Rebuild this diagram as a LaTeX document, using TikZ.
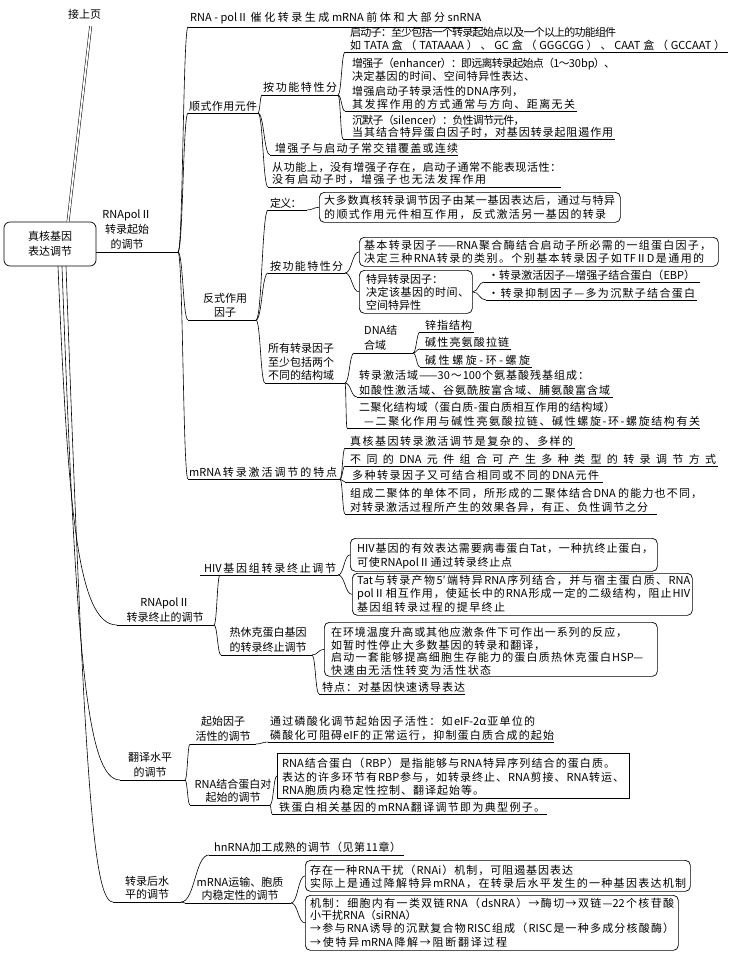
\documentclass[tikz,border=0pt]{standalone}
\usepackage{fontspec}
\setmainfont{Noto Sans CJK SC}
\usetikzlibrary{calc}
\chardef\cjkcls=200
\newcount\cjkcnt
\cjkcnt="3000
\loop\ifnum\cjkcnt<"3040 \XeTeXcharclass\cjkcnt=\cjkcls \advance\cjkcnt by 1 \repeat
\cjkcnt="4E00
\loop\ifnum\cjkcnt<"A000 \XeTeXcharclass\cjkcnt=\cjkcls \advance\cjkcnt by 1 \repeat
\cjkcnt="FF00
\loop\ifnum\cjkcnt<"FF60 \XeTeXcharclass\cjkcnt=\cjkcls \advance\cjkcnt by 1 \repeat
\XeTeXinterchartoks \cjkcls \cjkcls = {\hskip 0pt plus 1fil minus 0.8pt\relax}
\XeTeXinterchartoks 0 \cjkcls = {\hskip 0pt plus 1fil minus 0.8pt\relax}
\XeTeXinterchartoks \cjkcls 0 = {\hskip 0pt plus 1fil minus 0.8pt\relax}
\newcommand\fs{\fontsize{11}{14.5}\selectfont}
\newcommand\tline[5]{\node[tx] (#1) at (#2,#3+4) {\XeTeXinterchartokenstate=1\relax\hbox to #4pt{#5}};}
\newcommand\tnat[4]{\node[tx] (#1) at (#2,#3+4) {#4};}
\newcommand\undl[4]{\coordinate (#1L) at (#2,#4);\coordinate (#1R) at (#3,#4);\draw[ln] (#1L) -- (#1R);}
\newcommand\conn[2]{\coordinate (cM) at ($(#1)!0.5!(#2)$);\draw[ln] (#1) .. controls (cM |- #1) and (cM |- #2) .. (#2);}
\begin{document}
\begin{tikzpicture}[x=1pt,y=-1pt,
 tx/.style={anchor=base west, inner sep=0pt, font=\fs},
 lab/.style={align=center, anchor=south, inner sep=0pt},
 labl/.style={align=left, anchor=south west, inner sep=0pt},
 ln/.style={line width=0.6pt},
 bx/.style={draw, line width=0.7pt, rounded corners=5pt, anchor=north west, inner sep=0pt},
 dbl/.style={double, double distance=1.8pt, line width=0.5pt}]
\fill[white] (0,0) rectangle (731,966);
\useasboundingbox (0,0) rectangle (731,966);

% root
\node[draw, line width=0.7pt, rounded corners=6pt, minimum width=92, minimum height=44, inner sep=0pt, align=center, font=\fs] (root) at (50,244) {真核基因\\表达调节};
\tnat{prev}{68}{15}{接上页}
\draw[dbl] ($(prev.south)+(6,6)$) -- ($(root.north)+(18,0)$);
\coordinate (rb1) at ($(root.south)+(8,0)$);
\coordinate (rb2) at ($(root.south)+(12,0)$);
\coordinate (rb3) at ($(root.south)+(16,0)$);

% ===== branch 1
\node[lab, font=\fontsize{11}{15}\selectfont] (l1) at (127,250) {RNApolⅡ\\转录起始\\的调节};
\undl{rp}{96}{178}{252}

\tline{a1}{190}{18}{291}{RNA - polⅡ催化转录生成mRNA前体和大部分snRNA}
\undl{a1u}{188}{483}{27}
\conn{rpR}{a1uL}

\tline{sx}{189}{106}{68}{顺式作用元件}
\undl{sxu}{188}{258}{113}
\conn{rpR}{sxuL}

\tline{gn1}{263}{88}{74}{按功能特性分}
\undl{gn1u}{262}{338}{95}
\conn{sxuR}{gn1uL}

\tline{b1}{350}{33}{265}{启动子：至少包括一个转录起始点以及一个以上的功能组件}
\tline{b2}{350}{45}{375}{如TATA盒（TATAAAA）、GC盒（GGGCGG）、CAAT盒（GCCAAT）}
\undl{bu}{345}{728}{52}
\conn{gn1uR}{buL}

\tline{c1}{352}{63}{263}{增强子（enhancer）：即远离转录起始点（1～30bp）、}
\tline{c2}{352}{77}{183}{决定基因的时间、空间特异性表达、}
\tline{c3}{352}{91}{171}{增强启动子转录活性的DNA序列，}
\tline{c4}{352}{104}{223}{其发挥作用的方式通常与方向、距离无关}
\undl{cu}{345}{577}{111}
\conn{gn1uR}{cuL}

\tline{d1}{352}{120}{169}{沉默子（silencer）：负性调节元件，}
\tline{d2}{352}{132}{261}{当其结合特异蛋白因子时，对基因转录起阻遏作用}
\undl{du}{343}{615}{139}
\conn{gn1uR}{duL}

\tline{e1}{275}{148}{183}{增强子与启动子常交错覆盖或连续}
\undl{eu}{270}{458}{155}
\conn{sxuR}{euL}

\tline{f1}{272}{167}{289}{从功能上，没有增强子存在，启动子通常不能表现活性：}
\tline{f2}{272}{179}{214}{没有启动子时，增强子也无法发挥作用}
\undl{fu}{268}{561}{187}
\conn{sxuR}{fuL}

\node[lab, font=\fontsize{11}{14}\selectfont] (fsl) at (225,318) {反式作用\\因子};
\undl{fsu}{188}{256}{320}
\conn{rpR}{fsuL}

\tline{def}{270}{203}{30}{定义：}
\undl{defu}{268}{307}{210}
\conn{fsuR}{defuL}
\node[bx, minimum width=301, minimum height=30] (B1) at (319,192) {};
\tline{g1}{324}{200}{291}{大多数真核转录调节因子由某一基因表达后，通过与特异}
\tline{g2}{324}{214}{282}{的顺式作用元件相互作用，反式激活另一基因的转录}
\conn{defuR}{B1.west}

\tline{gn2}{270}{266}{73}{按功能特性分}
\undl{gn2u}{268}{345}{273}
\conn{fsuR}{gn2uL}
\node[bx, minimum width=359, minimum height=29] (B2) at (359,237) {};
\tline{h1}{364}{245}{347}{基本转录因子——RNA聚合酶结合启动子所必需的一组蛋白因子，}
\tline{h2}{364}{258}{340}{决定三种RNA转录的类别。个别基本转录因子如TFⅡD是通用的}
\conn{gn2uR}{B2.west}
\node[bx, minimum width=113, minimum height=43] (B3) at (359,270) {};
\tnat{i1}{366}{279}{特异转录因子：}
\tline{i2}{366}{292}{103}{决定该基因的时间、}
\tnat{i3}{366}{305}{空间特异性}
\conn{gn2uR}{B3.west}
\tline{j1}{488}{275}{207}{•转录激活因子—增强子结合蛋白（EBP）}
\undl{j1u}{484}{700}{282}
\tline{j2}{488}{293}{207}{•转录抑制因子—多为沉默子结合蛋白}
\undl{j2u}{486}{697}{300}
\conn{B3.east}{j1uL}
\conn{B3.east}{j2uL}

\node[labl, font=\fontsize{11}{13.5}\selectfont] (all) at (268,381) {所有转录因子\\至少包括两个\\不同的结构域};
\undl{allu}{265}{345}{383}
\conn{fsuR}{alluL}
\node[labl, font=\fontsize{11}{15}\selectfont] (dna) at (364,351) {DNA结\\合域};
\undl{dnau}{354}{413}{353}
\conn{alluR}{dnauL}
\tline{k1}{425}{325}{47}{锌指结构}
\undl{k1u}{420}{474}{332}
\tline{k2}{425}{342}{84}{碱性亮氨酸拉链}
\undl{k2u}{420}{511}{349}
\tline{k3}{425}{360}{105}{碱性螺旋-环-螺旋}
\undl{k3u}{420}{532}{367}
\conn{dnauR}{k1uL}
\conn{dnauR}{k2uL}
\conn{dnauR}{k3uL}
\tline{m1}{359}{375}{230}{转录激活域——30～100个氨基酸残基组成：}
\tline{m2}{359}{390}{251}{如酸性激活域、谷氨酰胺富含域、脯氨酸富含域}
\undl{mu}{357}{613}{397}
\conn{alluR}{muL}
\tline{n1}{359}{407}{256}{二聚化结构域（蛋白质-蛋白质相互作用的结构域）}
\tline{n2}{364}{421}{336}{—二聚化作用与碱性亮氨酸拉链、碱性螺旋-环-螺旋结构有关}
\undl{nu}{347}{700}{428}
\conn{alluR}{nuL}

\tline{mt}{189}{472}{148}{mRNA转录激活调节的特点}
\undl{mtu}{188}{340}{479}
\conn{rpR}{mtuL}
\tline{p1}{350}{441}{223}{真核基因转录激活调节是复杂的、多样的}
\undl{p1u}{345}{575}{448}
\tline{p2}{350}{459}{366}{不同的DNA元件组合可产生多种类型的转录调节方式}
\undl{p2u}{345}{718}{466}
\tline{p3}{352}{475}{247}{多种转录因子又可结合相同或不同的DNA元件}
\undl{p3u}{345}{603}{482}
\tline{p4}{350}{493}{352}{组成二聚体的单体不同，所形成的二聚体结合DNA 的能力也不同，}
\tline{p5}{350}{507}{298}{对转录激活过程所产生的效果各异，有正、负性调节之分}
\undl{p5u}{345}{657}{514}
\conn{mtuR}{p1uL}
\conn{mtuR}{p2uL}
\conn{mtuR}{p3uL}
\conn{mtuR}{p5uL}

% ===== branch 2
\node[lab, font=\fontsize{11}{15}\selectfont] (zz) at (165,623) {RNApolⅡ\\转录终止的调节};
\undl{zzu}{117}{214}{625}
\draw[ln] (rb1) .. controls (68,500) and (76,625) .. (zzuL);
\tline{hiv}{204}{568}{132}{HIV基因组转录终止调节}
\undl{hivu}{200}{338}{575}
\coordinate (hivJ) at (220,575);
\conn{zzuR}{hivJ}
\node[bx, minimum width=307, minimum height=33] (B4) at (350,538) {};
\tline{q1}{357}{548}{296}{HIV基因的有效表达需要病毒蛋白Tat，一种抗终止蛋白，}
\tline{q2}{357}{562}{155}{可使RNApolⅡ通过转录终止点}
\conn{hivuR}{B4.west}
\node[bx, minimum width=340, minimum height=42] (B5) at (352,573) {};
\tline{r1}{357}{580}{333}{Tat与转录产物5′端特异RNA序列结合，并与宿主蛋白质、RNA}
\tline{r2}{357}{593}{333}{polⅡ相互作用，使延长中的RNA形成一定的二级结构，阻止HIV}
\tline{r3}{357}{607}{148}{基因组转录过程的提早终止}
\conn{hivuR}{B5.west}
\node[lab, font=\fontsize{11}{15}\selectfont] (hs) at (268,653) {热休克蛋白基因\\的转录终止调节};
\undl{hsu}{221}{312}{655}
\conn{zzuR}{hsuL}
\node[bx, minimum width=333, minimum height=54] (B6) at (324,622) {};
\tline{s1}{331}{632}{296}{在环境温度升高或其他应激条件下可作出一系列的反应，}
\tline{s2}{331}{645}{214}{如暂时性停止大多数基因的转录和翻译，}
\tline{s3}{331}{657}{312}{启动一套能够提高细胞生存能力的蛋白质热休克蛋白HSP—}
\tline{s4}{331}{670}{160}{快速由无活性转变为活性状态}
\conn{hsuR}{B6.west}
\tline{tp}{322}{687}{143}{特点：对基因快速诱导表达}
\undl{tpu}{319}{465}{694}
\conn{hsuR}{tpuL}

% ===== branch 3
\node[lab, font=\fontsize{11}{15}\selectfont] (fy) at (150,778) {翻译水平\\的调节};
\undl{fyu}{120}{185}{780}
\draw[ln] (rb2) .. controls (76,650) and (86,780) .. (fyuL);
\node[lab, font=\fontsize{11}{15}\selectfont] (qs) at (223,742) {起始因子\\活性的调节};
\undl{qsu}{190}{256}{744}
\conn{fyuR}{qsuL}
\tline{u1}{270}{721}{265}{通过磷酸化调节起始因子活性：如eIF-2α亚单位的}
\tline{u2}{270}{735}{284}{磷酸化可阻碍eIF的正常运行，抑制蛋白质合成的起始}
\undl{uu}{268}{554}{742}
\conn{qsuR}{uuL}
\node[bx, sharp corners, minimum width=352, minimum height=45] (B7) at (277,753) {};
\tline{v1}{282}{763}{333}{RNA结合蛋白（RBP）是指能够与RNA特异序列结合的蛋白质。}
\tline{v2}{282}{777}{342}{表达的许多环节有RBP参与，如转录终止、RNA剪接、RNA转运、}
\tline{v3}{282}{790}{202}{RNA胞质内稳定性控制、翻译起始等。}
\node[lab, font=\fontsize{11}{13.5}\selectfont] (rbl) at (233,803) {RNA结合蛋白对\\起始的调节};
\undl{rbu}{190}{270}{805}
\conn{fyuR}{rbuL}
\conn{rbuR}{B7.west}
\tline{w1}{279}{807}{266}{铁蛋白相关基因的mRNA翻译调节即为典型例子。}
\undl{wu}{272}{547}{814}
\conn{rbuR}{wuL}

% ===== branch 4
\node[lab, font=\fontsize{11}{13.5}\selectfont] (zh) at (147,900) {转录后水\\平的调节};
\undl{zhu}{113}{181}{902}
\draw[ln] (rb3) .. controls (84,760) and (92,902) .. (zhuL);
\tline{hn}{214}{847}{187}{hnRNA加工成熟的调节（见第11章）}
\undl{hnu}{209}{404}{855}
\conn{zhuR}{hnuL}
\node[lab, font=\fontsize{11}{13.5}\selectfont] (my) at (240,901) {mRNA运输、胞质\\内稳定性的调节};
\undl{myu}{185}{291}{903}
\conn{zhuR}{myuL}
\node[bx, minimum width=385, minimum height=31] (B8) at (305,860) {};
\tline{x1}{310}{870}{263}{存在一种RNA干扰（RNAi）机制，可阻遏基因表达}
\tline{x2}{310}{883}{376}{实际上是通过降解特异mRNA，在转录后水平发生的一种基因表达机制}
\conn{myuR}{B8.west}
\node[bx, minimum width=373, minimum height=55] (B9) at (305,895) {};
\tline{y1}{310}{903}{364}{机制：细胞内有一类双链RNA（dsNRA）→酶切→双链—22个核苷酸}
\tnat{y2}{310}{915}{小干扰RNA（siRNA）}
\tline{y3}{310}{928}{364}{→参与RNA诱导的沉默复合物RISC组成（RISC是一种多成分核酸酶）}
\tline{y4}{310}{942}{197}{→使特异mRNA降解→阻断翻译过程}
\conn{myuR}{B9.west}
\end{tikzpicture}
\end{document}
